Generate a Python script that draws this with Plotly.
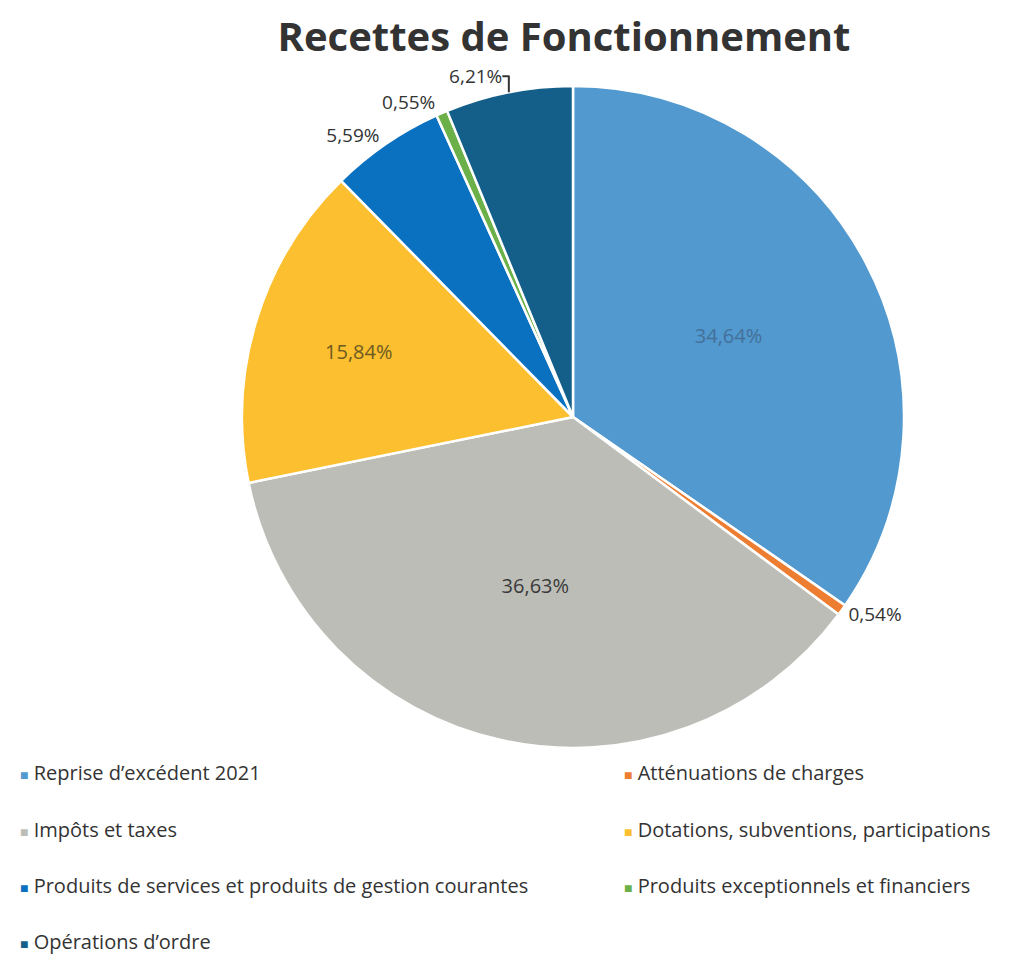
import plotly.graph_objects as go

# Recettes de fonctionnement (%), clockwise from 12 o'clock
categories = [
    "Reprise d’excédent 2021",
    "Atténuations de charges",
    "Impôts et taxes",
    "Dotations, subventions, participations",
    "Produits de services et produits de gestion courantes",
    "Produits exceptionnels et financiers",
    "Opérations d’ordre",
]
values = [34.64, 0.54, 36.63, 15.84, 5.59, 0.55, 6.21]
colors = ["#5199CE", "#ED7D31", "#BDBDB8", "#FBBF2F", "#0A70C0", "#6BB048", "#145F8A"]
inside_colors = ["#44709A", "#333333", "#3A3A3A", "#6E5A22", "#333333", "#333333", "#333333"]

labels_txt = [f"{v:.2f}%".replace(".", ",") for v in values]
positions = ["inside" if v > 10 else "outside" for v in values]

fig = go.Figure()

fig.add_trace(go.Pie(
    labels=categories,
    values=values,
    text=labels_txt,
    texttemplate="%{text}",
    textposition=positions,
    sort=False,
    direction="clockwise",
    rotation=0,
    marker=dict(colors=colors, line=dict(color="white", width=2.5)),
    insidetextfont=dict(family="Open Sans", size=20, color=inside_colors),
    outsidetextfont=dict(family="Open Sans", size=19, color="#333333"),
    insidetextorientation="horizontal",
    domain=dict(x=[234 / 1013, 896 / 1013], y=[215 / 955, 877 / 955]),
    showlegend=False,
    hoverinfo="label+percent",
))

# legend drawn as two-column text rows
legend_x = [0.010, 0.606]
legend_y = [764, 821, 877, 933]
for i, (name, col) in enumerate(zip(categories, colors)):
    fig.add_annotation(
        x=legend_x[i % 2], y=1 - legend_y[i // 2] / 955,
        xref="paper", yref="paper", xanchor="left", yanchor="middle",
        text=f"<span style='color:{col};font-size:14px'>■</span> {name}",
        showarrow=False,
        font=dict(family="Open Sans", size=20, color="#333333"),
    )

fig.update_layout(
    title=dict(
        text="<b>Recettes de Fonctionnement</b>",
        x=556 / 1013, xanchor="center", y=1 - 29 / 955, yanchor="middle",
        font=dict(family="Open Sans", size=40, color="#333333"),
    ),
    width=1013, height=955,
    margin=dict(l=0, r=0, t=0, b=0),
    paper_bgcolor="white",
    plot_bgcolor="white",
)

fig.write_html("out.html")
